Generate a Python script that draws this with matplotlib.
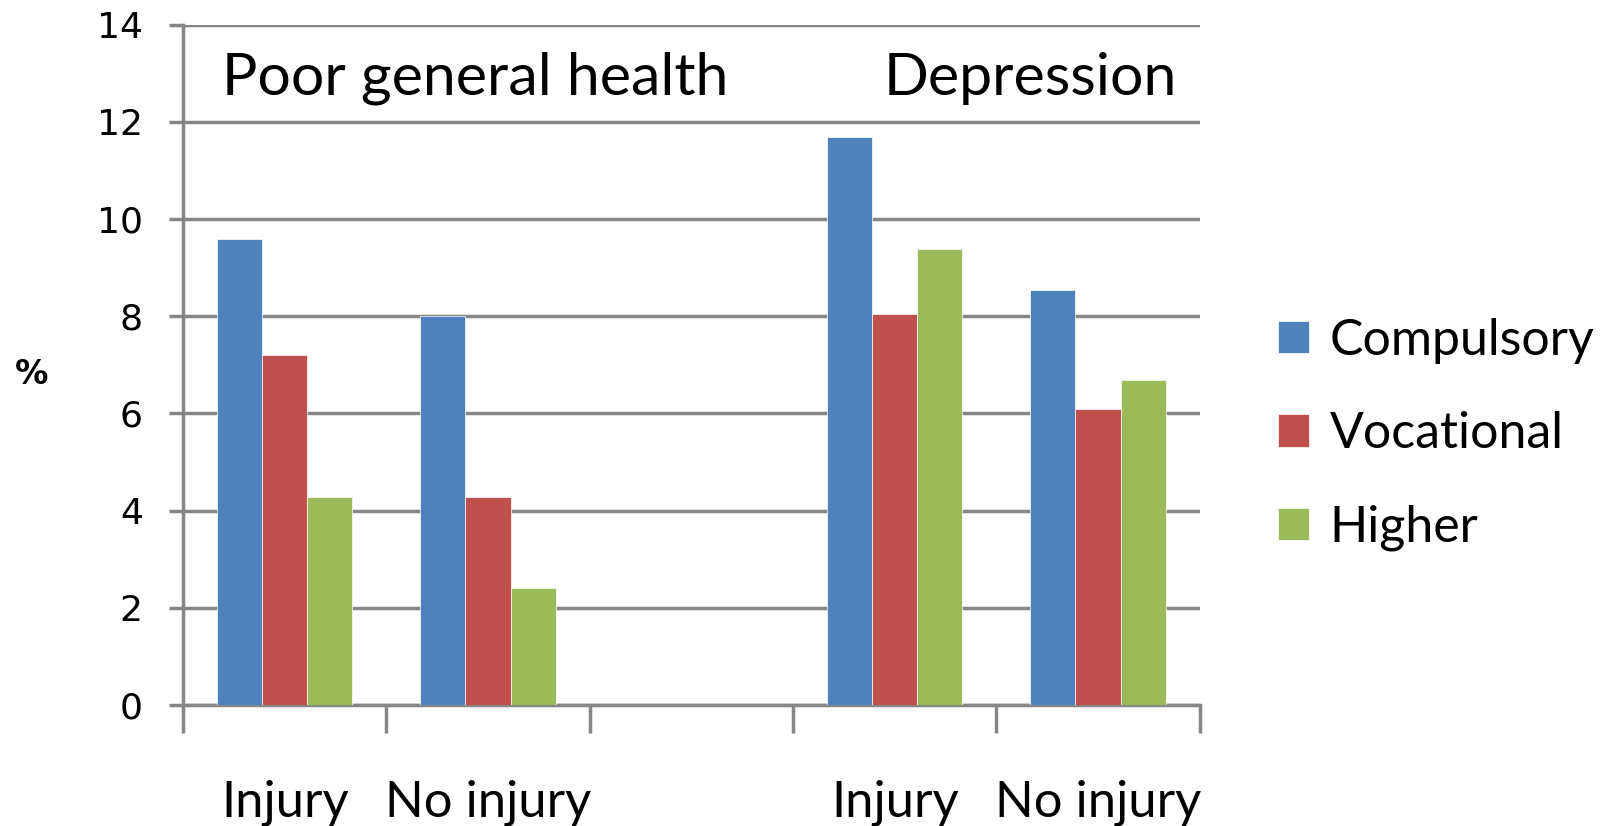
import matplotlib
matplotlib.use("Agg")
from matplotlib import pyplot as plt
import numpy as np

plt.rcParams['font.family'] = ['Lato', 'DejaVu Sans']

# slots: Injury, No injury, (gap), Injury, No injury
slot_labels = ['Injury', 'No injury', '', 'Injury', 'No injury']
series_names = ['Compulsory', 'Vocational', 'Higher']
compulsory = [9.6, 8.0, np.nan, 11.7, 8.55]
vocational = [7.2, 4.28, np.nan, 8.05, 6.1]
higher = [4.28, 2.4, np.nan, 9.38, 6.68]
colors = ['#4F81BD', '#C0504D', '#9BBB59']
section_titles = ['Poor general health', 'Depression']

fig = plt.figure(figsize=(16.06, 8.26), dpi=100)
ax = fig.add_axes([0.114, 0.1465, 0.633, 0.8235])

x = np.arange(len(slot_labels))
width = 0.222
for i, (vals, name) in enumerate(zip([compulsory, vocational, higher], series_names)):
    ax.bar(x + (i - 1) * width, vals, width, color=colors[i], label=name,
           zorder=3, edgecolor='white', linewidth=0.5)

ax.set_xlim(-0.5, len(slot_labels) - 0.5)
ax.set_ylim(0, 14)
ax.set_yticks(np.arange(0, 15, 2))
ax.yaxis.grid(True, color='#868686', linewidth=2.5, zorder=0)
ax.tick_params(axis='y', labelsize=26, length=10, width=2.5, color='#868686', pad=19)
for lab in ax.get_yticklabels():
    lab.set_fontfamily('DejaVu Sans')

ax.set_xticks(np.arange(-0.5, len(slot_labels), 1))
ax.set_xticklabels([])
ax.set_xticks(x, minor=True)
ax.set_xticklabels(slot_labels, minor=True)
ax.tick_params(axis='x', which='major', length=20, width=2.5, color='#868686')
ax.tick_params(axis='x', which='minor', length=0, labelsize=36.5, pad=54)

for s in ['top', 'right']:
    ax.spines[s].set_visible(False)
for s in ['left', 'bottom']:
    ax.spines[s].set_color('#868686')
    ax.spines[s].set_linewidth(2.5)

ax.text(-0.31, 12.9, section_titles[0], fontsize=42.5, va='center', ha='left')
ax.text(4.39, 12.9, section_titles[1], fontsize=42.5, va='center', ha='right')

fig.text(0.009, 0.547, '%', fontsize=24, fontweight='bold', va='center',
         family='DejaVu Sans')

fig.legend(loc='center left', bbox_to_anchor=(0.768, 0.474), frameon=False,
           fontsize=36, handlelength=0.62, handleheight=0.62, labelspacing=0.95,
           handletextpad=0.4)

fig.savefig('out.png', dpi=100)
